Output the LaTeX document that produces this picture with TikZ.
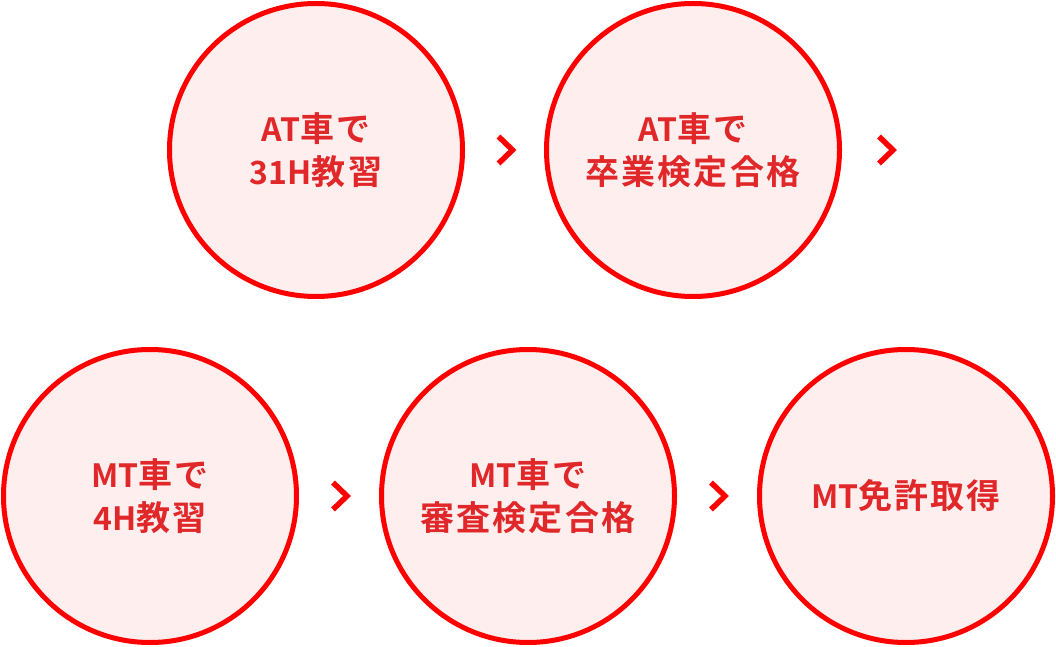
\documentclass[tikz,border=0pt]{standalone}
\usepackage{fontspec}
\newfontfamily\jpfont{Noto Sans CJK JP Bold}[LetterSpace=6]
\newfontfamily\latfont{Noto Sans CJK JP Bold}
\newcommand{\lt}[1]{{\latfont\fontsize{32}{43}\selectfont #1}}
\usetikzlibrary{calc}
\definecolor{ringred}{RGB}{255,0,0}
\definecolor{txtred}{RGB}{224,40,42}
\definecolor{pinkfill}{RGB}{255,238,238}
\tikzset{
  x=1pt,y=1pt,
  stepcircle/.style={circle,draw=ringred,fill=pinkfill,line width=5pt,
    minimum size=293pt,inner sep=0pt,text=txtred,align=center,
    font=\jpfont\fontsize{34}{43}\selectfont},
  chev/.style={draw=ringred,line width=5.5pt,line join=miter}
}
\begin{document}
\begin{tikzpicture}
\useasboundingbox (0,0) rectangle (1056,646);
\node[stepcircle] (c1) at (316,496) {\lt{AT}車で\\\lt{31H}教習};
\node[stepcircle] (c2) at (693,496) {\lt{AT}車で\\卒業検定合格};
\node[stepcircle] (c3) at (150,150) {\lt{MT}車で\\\lt{4H}教習};
\node[stepcircle] (c4) at (528,150) {\lt{MT}車で\\審査検定合格};
\node[stepcircle] (c5) at (906,150) {\lt{MT}免許取得};
\coordinate (a1) at ($(c1.east)!0.5!(c2.west)+(1,0)$);
\coordinate (a2) at ($(c2.east)+(44,0)$);
\coordinate (a3) at ($(c3.east)!0.5!(c4.west)+(1,0)$);
\coordinate (a4) at ($(c4.east)!0.5!(c5.west)+(1,0)$);
\foreach \a in {a1,a2,a3,a4}{
  \draw[chev] ($(\a)+(-7,13.5)$) -- ($(\a)+(7,0)$) -- ($(\a)+(-7,-13.5)$);
}
\end{tikzpicture}
\end{document}
